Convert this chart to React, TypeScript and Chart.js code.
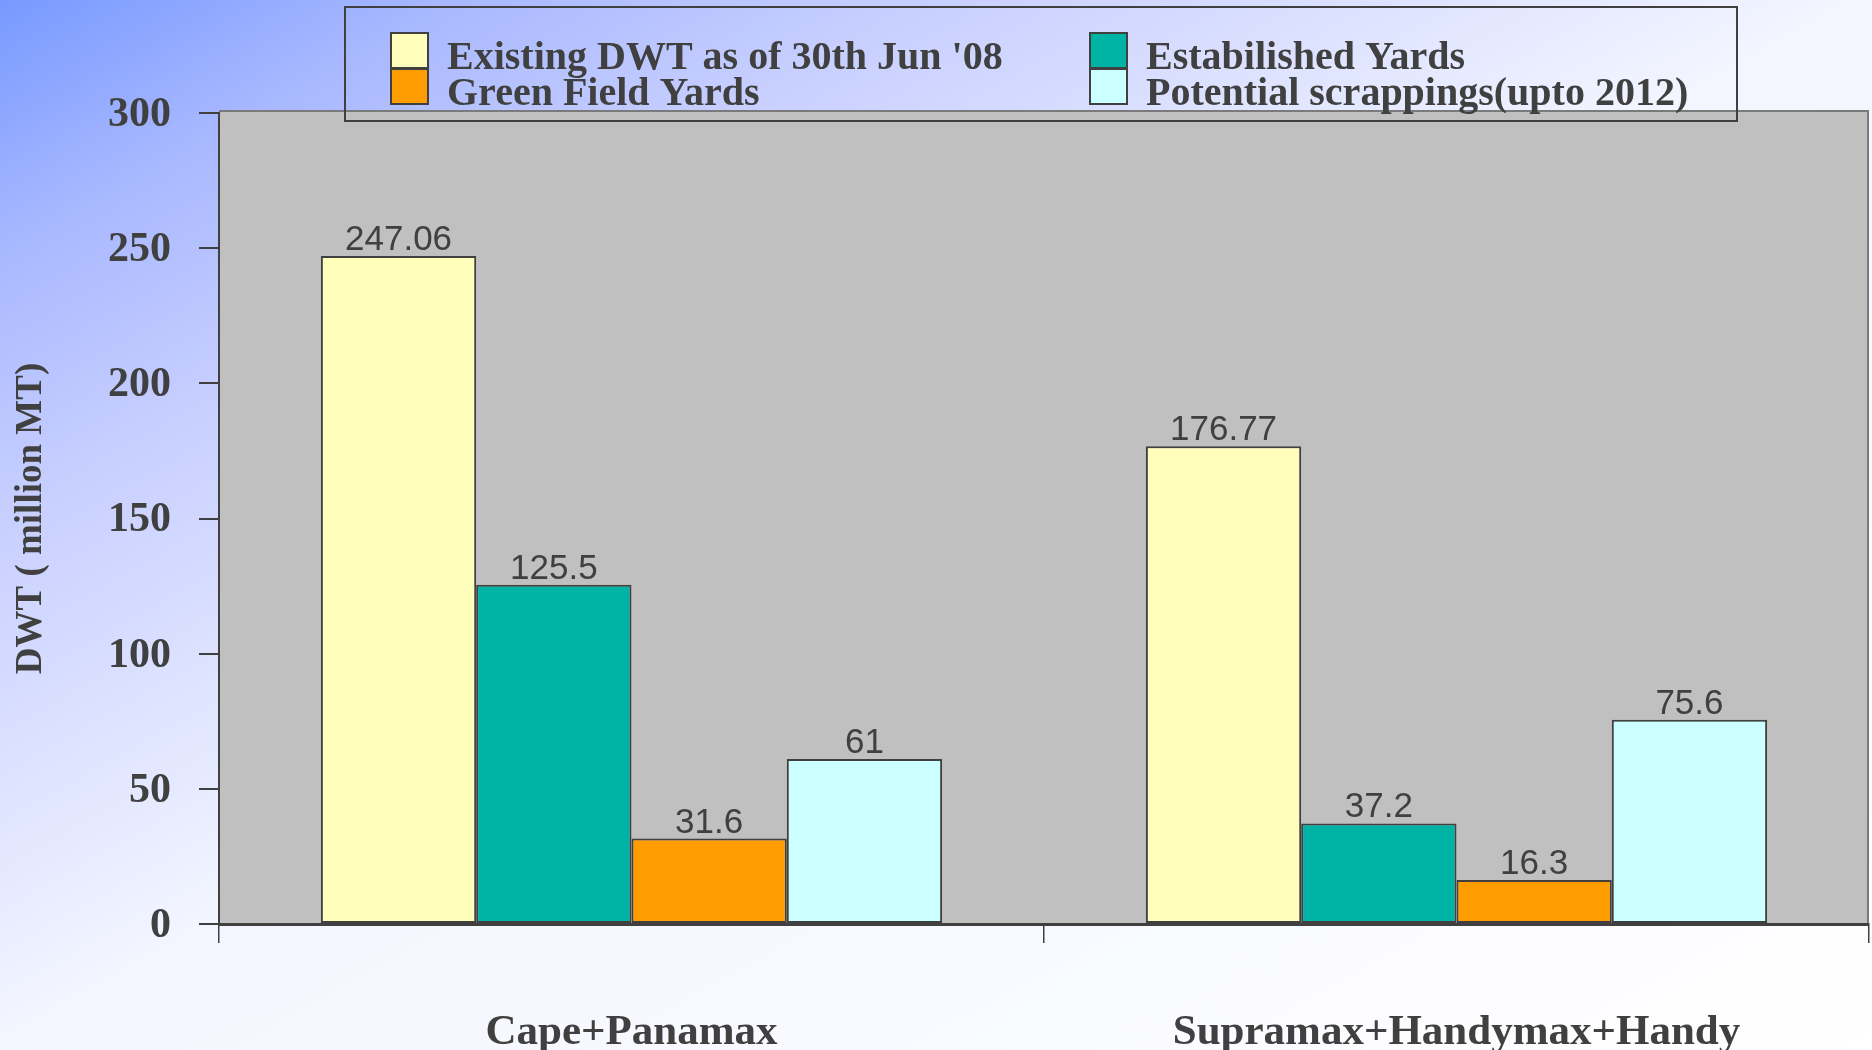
import React, { useEffect, useRef } from "react";
import { Chart, registerables } from "chart.js";

Chart.register(...registerables);

const categories = ["Cape+Panamax", "Supramax+Handymax+Handy"];
const seriesNames = [
  "Existing DWT as of 30th Jun '08",
  "Estabilished Yards",
  "Green Field Yards",
  "Potential scrappings(upto 2012)",
];
const existingDWT = [247.06, 176.77];
const establishedYards = [125.5, 37.2];
const greenFieldYards = [31.6, 16.3];
const potentialScrappings = [61, 75.6];
const seriesColors = ["#FFFFBB", "#00B4A5", "#FF9C00", "#CCFFFF"];
const yTicks = [0, 50, 100, 150, 200, 250, 300];

const SERIF = '"Liberation Serif", "Times New Roman", serif';
const SANS = '"Liberation Sans", Arial, sans-serif';
const INK = "#404040";

const plotBg = {
  id: "plotBg",
  beforeDraw(chart: any) {
    const { ctx, chartArea: a } = chart;
    ctx.save();
    ctx.fillStyle = "#C0C0C0";
    ctx.fillRect(a.left, a.top - 3, a.right - a.left, a.bottom - a.top + 3);
    ctx.strokeStyle = "#7a7a7a";
    ctx.lineWidth = 2;
    ctx.beginPath();
    ctx.moveTo(a.left, a.top - 2);
    ctx.lineTo(a.right - 1, a.top - 2);
    ctx.lineTo(a.right - 1, a.bottom);
    ctx.stroke();
    ctx.restore();
  },
};

const valueLabels = {
  id: "valueLabels",
  afterDatasetsDraw(chart: any) {
    const { ctx } = chart;
    ctx.save();
    ctx.font = `35px ${SANS}`;
    ctx.fillStyle = INK;
    ctx.textAlign = "center";
    ctx.textBaseline = "alphabetic";
    chart.data.datasets.forEach((ds: any, i: number) => {
      const meta = chart.getDatasetMeta(i);
      meta.data.forEach((el: any, j: number) => {
        ctx.fillText(String(ds.data[j]), el.x, el.y - 6);
      });
    });
    ctx.restore();
  },
};

const boxLegend = {
  id: "boxLegend",
  afterDraw(chart: any) {
    const { ctx } = chart;
    ctx.save();
    ctx.strokeStyle = INK;
    ctx.lineWidth = 2;
    ctx.strokeRect(345, 7, 1392, 114);
    const cols = [391, 1090];
    const rows = [69, 105];
    ctx.font = `bold 40px ${SERIF}`;
    ctx.textBaseline = "alphabetic";
    ctx.textAlign = "left";
    chart.data.datasets.forEach((ds: any, i: number) => {
      const cx = cols[i % 2];
      const by = rows[Math.floor(i / 2)];
      ctx.fillStyle = ds.backgroundColor;
      ctx.fillRect(cx, by - 36, 37, 35);
      ctx.lineWidth = 2;
      ctx.strokeStyle = INK;
      ctx.strokeRect(cx, by - 36, 37, 35);
      ctx.fillStyle = INK;
      ctx.fillText(ds.label, cx + 56, by);
    });
    ctx.restore();
  },
};

export default function App() {
  const ref = useRef<HTMLCanvasElement>(null);
  useEffect(() => {
    document.body.style.margin = "0";
    const values = [existingDWT, establishedYards, greenFieldYards, potentialScrappings];
    const chart = new Chart(ref.current!, {
      type: "bar",
      data: {
        labels: categories,
        datasets: seriesNames.map((name, i) => ({
          label: name,
          data: values[i],
          backgroundColor: seriesColors[i],
          borderColor: INK,
          borderWidth: 2,
          borderSkipped: false,
          barPercentage: 1,
          categoryPercentage: 0.753,
        })),
      },
      options: {
        responsive: false,
        animation: false,
        layout: { padding: { top: 113, right: 3, left: 0, bottom: 0 } },
        plugins: { legend: { display: false }, tooltip: { enabled: false } },
        scales: {
          x: {
            afterFit: (s: any) => {
              s.height = 126;
            },
            grid: {
              offset: true,
              drawOnChartArea: false,
              drawTicks: true,
              tickLength: 19,
              color: INK,
              lineWidth: 1.5,
            },
            border: { display: true, color: INK, width: 3 },
            ticks: {
              color: INK,
              padding: 64,
              font: { family: SERIF, size: 43, weight: "bold" },
              maxRotation: 0,
            },
          },
          y: {
            min: 0,
            max: 300,
            afterFit: (s: any) => {
              s.width = 219;
            },
            afterBuildTicks: (s: any) => {
              s.ticks = yTicks.map((v) => ({ value: v }));
            },
            grid: {
              drawOnChartArea: false,
              drawTicks: true,
              tickLength: 20,
              color: INK,
              lineWidth: 2,
            },
            border: { display: true, color: INK, width: 2 },
            ticks: {
              color: INK,
              padding: 28,
              labelOffset: 2,
              font: { family: SERIF, size: 42, weight: "bold" },
            },
            title: {
              display: true,
              text: "DWT ( million MT)",
              color: INK,
              padding: { top: 9, bottom: 0 },
              font: { family: SERIF, size: 37, weight: "bold", lineHeight: 1.2 },
            },
          },
        },
      },
      plugins: [plotBg, valueLabels, boxLegend],
    });
    return () => chart.destroy();
  }, []);
  return (
    <div
      style={{
        position: "fixed",
        left: 0,
        top: 0,
        width: 1872,
        height: 1050,
        background:
          "linear-gradient(to bottom right, #7799ff 0%, #a8b8ff 12%, #c6ceff 24%, #f4f6ff 50%, #ffffff 100%)",
      }}
    >
      <canvas ref={ref} width={1872} height={1050} style={{ display: "block" }} />
    </div>
  );
}
